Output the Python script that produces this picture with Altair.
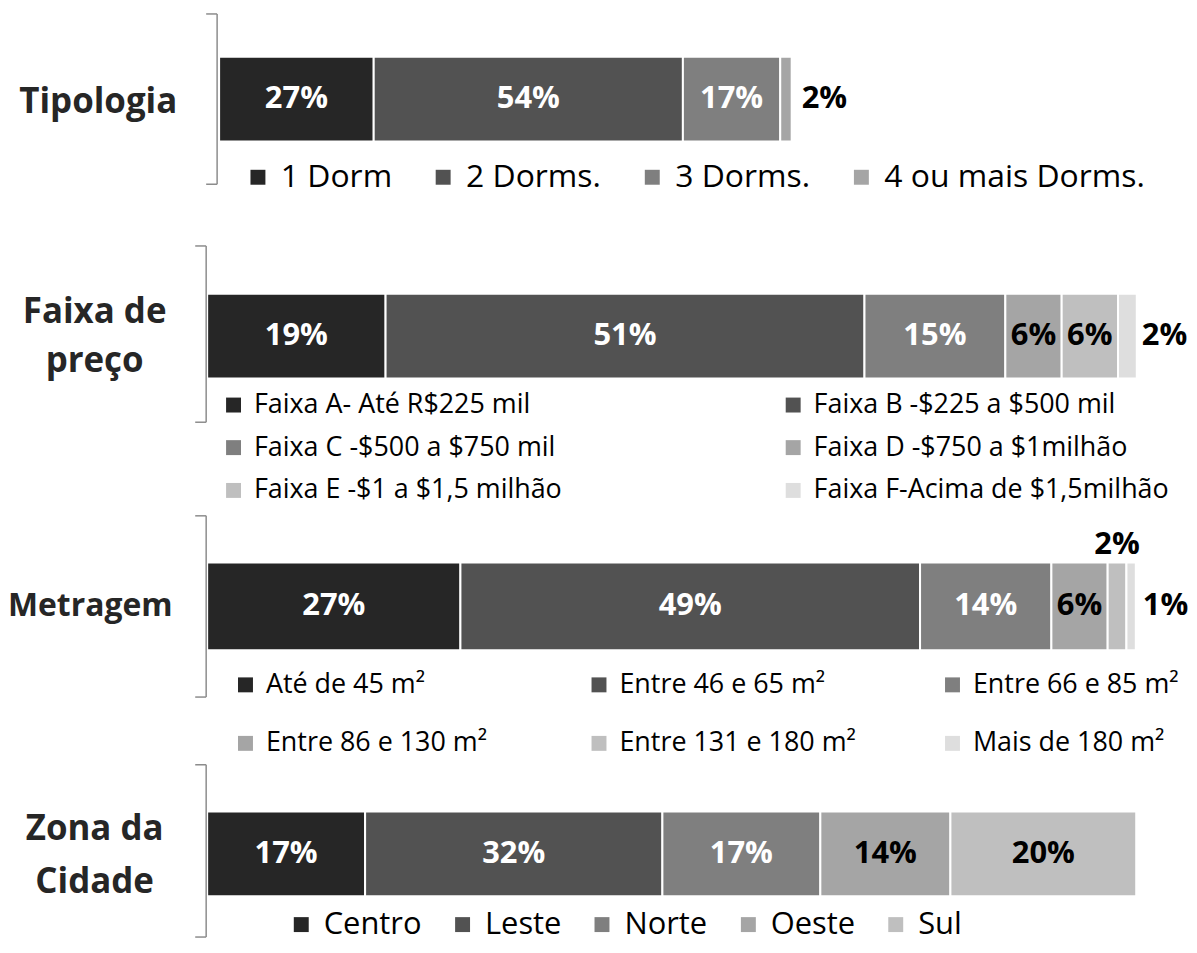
import altair as alt
import pandas as pd

# ---------------- data ----------------
tip_cats = ["1 Dorm", "2 Dorms.", "3 Dorms.", "4 ou mais Dorms."]
tip_vals = [27, 54, 17, 2]

faixa_cats = ["Faixa A- Até R$225 mil", "Faixa B -$225 a $500 mil",
              "Faixa C -$500 a $750 mil", "Faixa D -$750 a $1milhão",
              "Faixa E -$1 a $1,5 milhão", "Faixa F-Acima de $1,5milhão"]
faixa_vals = [19, 51, 15, 6, 6, 2]

met_cats = ["Até de 45 m²", "Entre 46 e 65 m²", "Entre 66 e 85 m²",
            "Entre 86 e 130 m²", "Entre 131 e 180 m²", "Mais de 180 m²"]
met_vals = [27, 49, 14, 6, 2, 1]

zona_cats = ["Centro", "Leste", "Norte", "Oeste", "Sul"]
zona_vals = [17, 32, 17, 14, 20]

panel_titles = ["Tipologia", "Faixa de\npreço", "Metragem", "Zona da\nCidade"]

# ---------------- styles ----------------
grays = ["#262626", "#525252", "#7f7f7f", "#a5a5a5", "#bfbfbf", "#dedede"]
FONT = "Open Sans"
TITLE_COLOR = "#262626"
BRACKET_COLOR = "#8c8c8c"
W = 1181

layouts = [
    dict(h=224, xr=[212, 787], yr=[47, 132], dx=10, dy_above=-62,
         title=dict(x=170, y=92, align="right", size=35, lh=50),
         bracket=dict(x=210, hx=199, y0=4, y1=175),
         legend=dict(legendX=235, legendY=152, columns=4, gridAlign="none",
                     labelFontSize=32, labelOffset=7, columnPadding=35,
                     rowPadding=0, symbolSize=225)),
    dict(h=280, xr=[200, 1143], yr=[61, 146], dx=5, dy_above=-62,
         title=dict(x=87, y=79, align="center", size=35, lh=50),
         bracket=dict(x=199, hx=188, y0=13, y1=190),
         legend=dict(legendX=213, legendY=159, columns=2, gridAlign="each",
                     labelFontSize=27, labelOffset=7, columnPadding=218,
                     rowPadding=15, symbolSize=225)),
    dict(h=248, xr=[200, 1142], yr=[51, 139], dx=7, dy_above=-62,
         title=dict(x=0, y=95, align="left", size=32, lh=50),
         bracket=dict(x=199, hx=188, y0=4, y1=186),
         legend=dict(legendX=225, legendY=160, columns=3, gridAlign="all",
                     labelFontSize=27, labelOffset=7, columnPadding=83,
                     rowPadding=31, symbolSize=225)),
    dict(h=180, xr=[200, 1133], yr=[53, 138], dx=8, dy_above=-62,
         title=dict(x=87, y=71, align="center", size=35, lh=53),
         bracket=dict(x=199, hx=188, y0=6, y1=179),
         legend=dict(legendX=279, legendY=151, columns=5, gridAlign="none",
                     labelFontSize=31, labelOffset=7, columnPadding=25,
                     rowPadding=0, symbolSize=225)),
]


def make_panel(title, cats, vals, L):
    n = len(cats)
    df = pd.DataFrame({"cat": cats, "value": vals, "idx": list(range(n)),
                       "panel": [title] * n})
    xs = alt.Scale(domain=[0, 100], range=L["xr"])
    ys = alt.Scale(domain=[title], range=L["yr"], paddingInner=0, paddingOuter=0)
    base = alt.Chart(df)

    lg = L["legend"]
    legend = alt.Legend(
        title=None, orient="none", direction="horizontal", padding=0,
        legendX=lg["legendX"], legendY=lg["legendY"], columns=lg["columns"],
        gridAlign=lg["gridAlign"], symbolType="square", symbolSize=lg["symbolSize"],
        symbolStrokeWidth=0, symbolOpacity=1, labelFont=FONT,
        labelFontSize=lg["labelFontSize"], labelColor="black", labelLimit=700,
        labelOffset=lg["labelOffset"], columnPadding=lg["columnPadding"],
        rowPadding=lg["rowPadding"],
    )

    bars = base.mark_bar(stroke="white", strokeWidth=2, opacity=1).encode(
        x=alt.X("value:Q", stack="zero", scale=xs, axis=None),
        y=alt.Y("panel:N", scale=ys, axis=None),
        color=alt.Color("cat:N", scale=alt.Scale(domain=cats, range=grays[:n]),
                        sort=cats, legend=legend),
        order=alt.Order("idx:Q", sort="ascending"),
    )

    lab = base.transform_window(
        cum="sum(value)", sort=[alt.SortField("idx", order="ascending")]
    ).transform_calculate(mid="datum.cum - datum.value / 2",
                          label="datum.value + '%'")

    tstyle = dict(font=FONT, fontWeight="bold", fontSize=31)
    inside = lab.transform_filter("datum.value >= 5").mark_text(**tstyle).encode(
        x=alt.X("mid:Q", scale=xs, axis=None),
        y=alt.Y("panel:N", scale=ys, axis=None),
        text="label:N",
        color=alt.condition("datum.idx < 3", alt.value("white"), alt.value("black")),
    )
    right = lab.transform_filter(f"datum.value < 5 && datum.idx == {n - 1}").mark_text(
        align="left", dx=L["dx"], color="black", **tstyle).encode(
        x=alt.X("cum:Q", scale=xs, axis=None),
        y=alt.Y("panel:N", scale=ys, axis=None),
        text="label:N",
    )
    above = lab.transform_filter(f"datum.value < 5 && datum.idx < {n - 1}").mark_text(
        dy=L["dy_above"], color="black", **tstyle).encode(
        x=alt.X("mid:Q", scale=xs, axis=None),
        y=alt.Y("panel:N", scale=ys, axis=None),
        text="label:N",
    )

    T = L["title"]
    ttl = alt.Chart(pd.DataFrame({"t": [title]})).mark_text(
        font=FONT, fontWeight="bold", fontSize=T["size"], color=TITLE_COLOR,
        align=T["align"], baseline="middle", lineBreak="\n", lineHeight=T["lh"],
    ).encode(x=alt.value(T["x"]), y=alt.value(T["y"]), text="t:N")

    B = L["bracket"]
    one = alt.Chart(pd.DataFrame({"k": [0]}))
    rstyle = dict(color=BRACKET_COLOR, strokeWidth=1.5)
    vline = one.mark_rule(**rstyle).encode(
        x=alt.value(B["x"]), y=alt.value(B["y0"]), y2=alt.value(B["y1"]))
    top = one.mark_rule(**rstyle).encode(
        x=alt.value(B["hx"]), x2=alt.value(B["x"]), y=alt.value(B["y0"]))
    bot = one.mark_rule(**rstyle).encode(
        x=alt.value(B["hx"]), x2=alt.value(B["x"]), y=alt.value(B["y1"]))

    return alt.layer(bars, inside, right, above, ttl, vline, top, bot).properties(
        width=W, height=L["h"])


panels = [
    make_panel(panel_titles[0], tip_cats, tip_vals, layouts[0]),
    make_panel(panel_titles[1], faixa_cats, faixa_vals, layouts[1]),
    make_panel(panel_titles[2], met_cats, met_vals, layouts[2]),
    make_panel(panel_titles[3], zona_cats, zona_vals, layouts[3]),
]

chart = alt.vconcat(*panels, spacing=0).resolve_scale(
    x="independent", y="independent", color="independent"
).resolve_legend(color="independent").properties(
    padding=0, background="white"
).configure_view(stroke=None)

chart.save("out.html", embed_options={"renderer": "svg", "actions": False})
